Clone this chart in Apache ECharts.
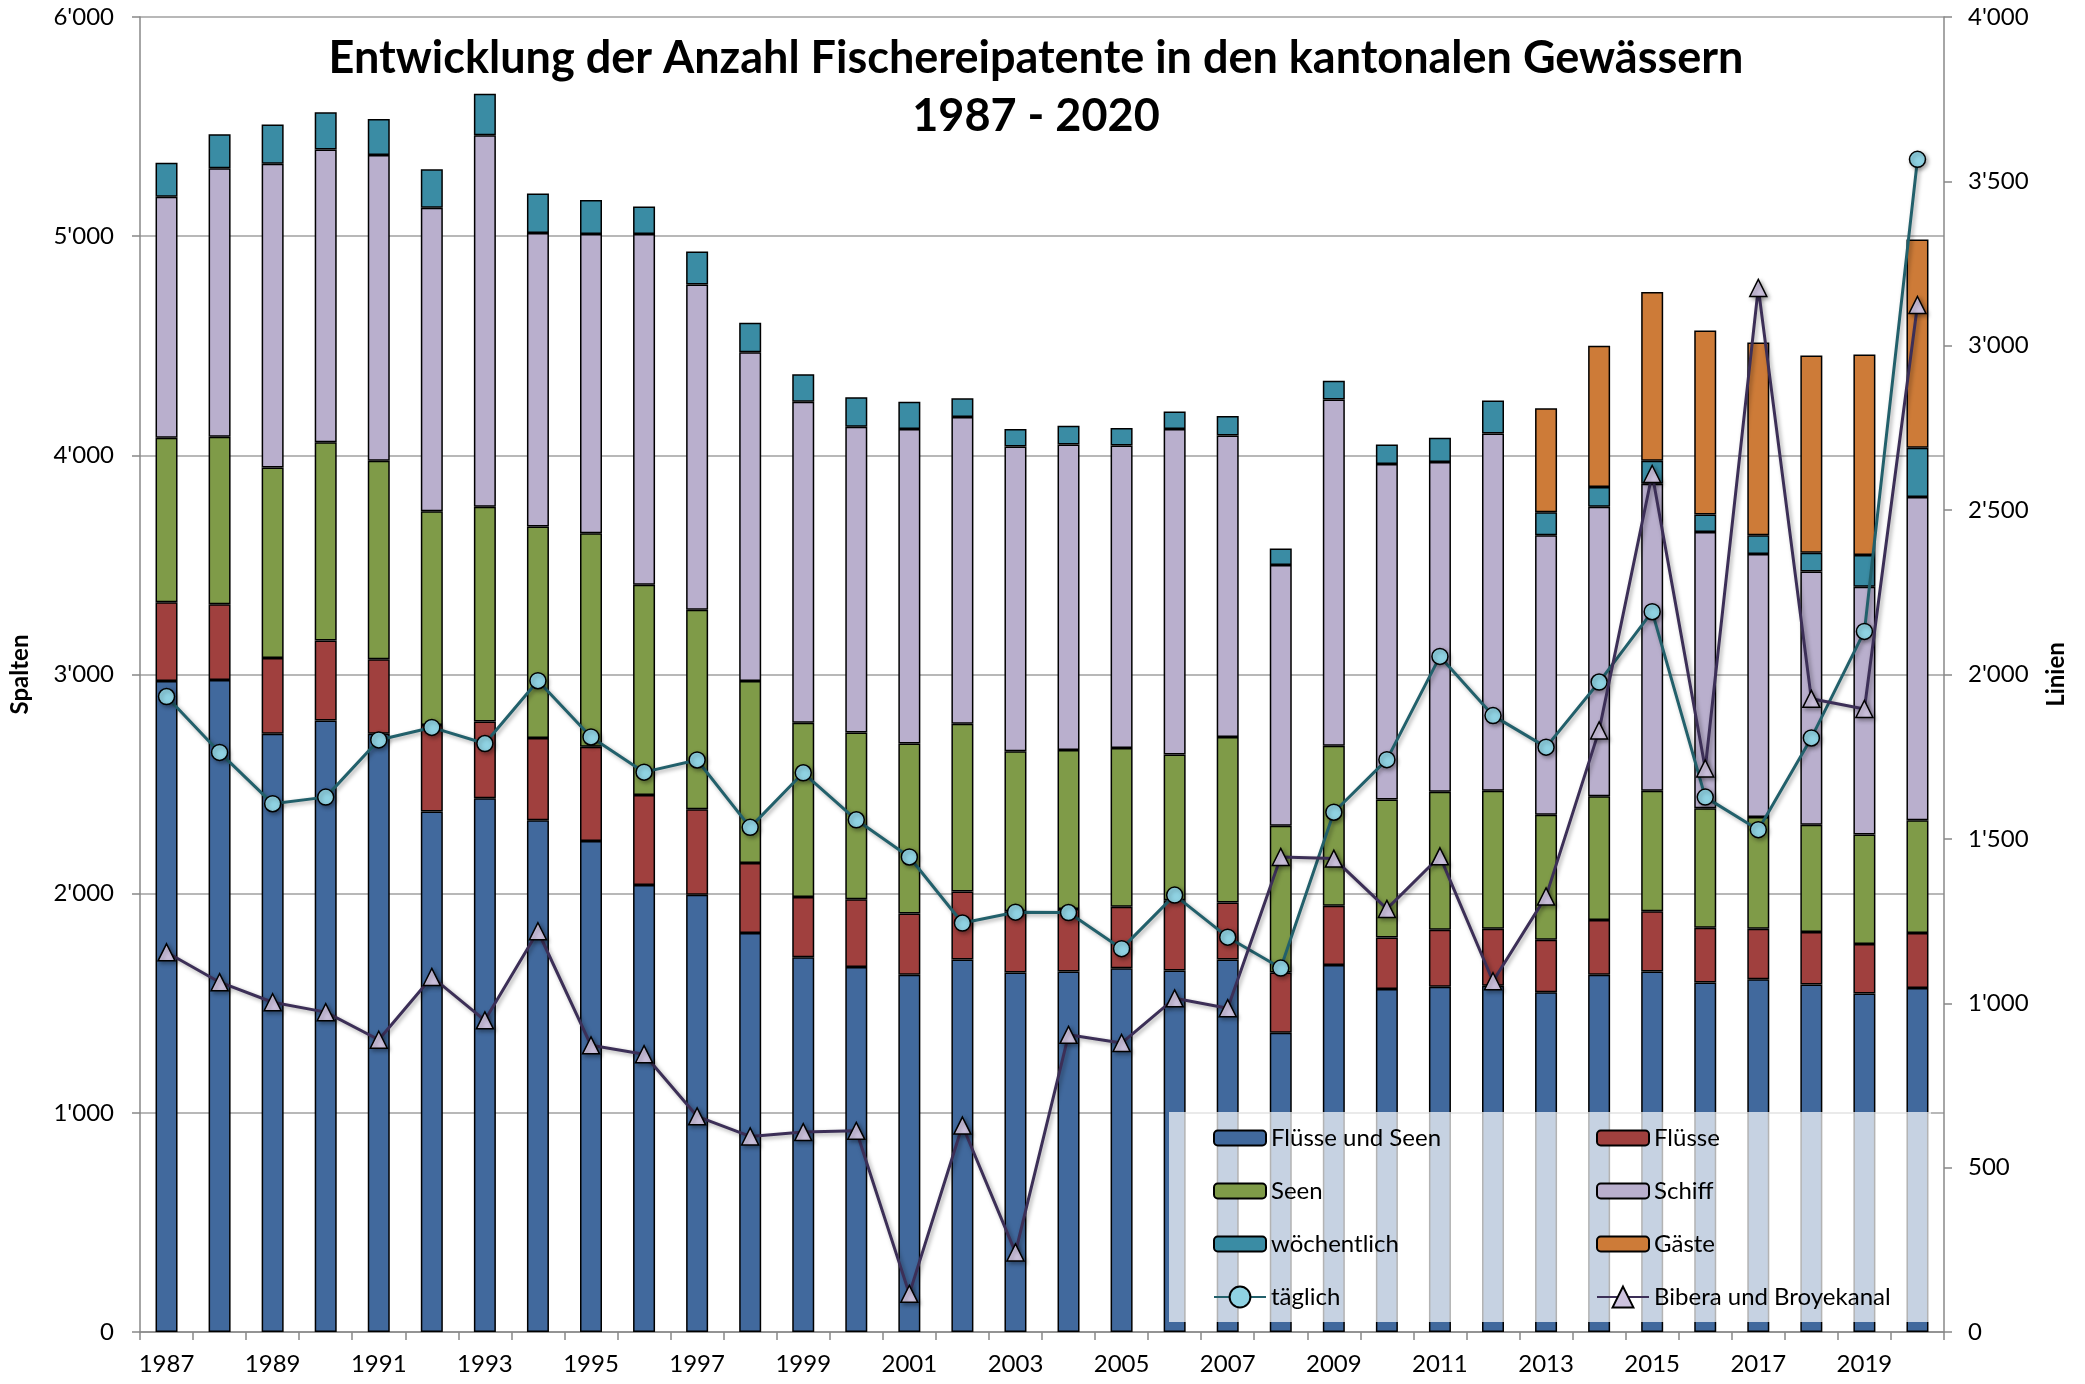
<!DOCTYPE html>
<html>
<head>
<meta charset="utf-8">
<script src="https://cdn.jsdelivr.net/npm/echarts@6/dist/echarts.min.js"></script>
<style>
html,body{margin:0;padding:0;background:#fff;}
#chart{width:2085px;height:1384px;}
</style>
</head>
<body>
<div id="chart"></div>
<script>
const years = ['1987','1988','1989','1990','1991','1992','1993','1994','1995','1996','1997','1998','1999','2000','2001','2002','2003','2004','2005','2006','2007','2008','2009','2010','2011','2012','2013','2014','2015','2016','2017','2018','2019','2020'];

const fluesseUndSeen = [2970,2975,2730,2790,2730,2375,2435,2335,2240,2040,1995,1820,1710,1665,1630,1700,1640,1645,1660,1650,1700,1365,1675,1565,1575,1580,1550,1630,1645,1595,1610,1585,1545,1570];
const fluesse = [360,345,345,365,340,395,350,375,430,410,390,320,275,310,280,310,280,285,280,320,260,275,270,235,260,260,240,250,275,250,230,240,225,250];
const seen = [750,765,870,905,905,975,980,965,975,960,910,830,795,760,775,765,730,725,725,665,755,670,730,630,630,630,570,565,550,545,510,490,500,515];
const schiff = [1100,1225,1385,1335,1395,1385,1695,1340,1365,1600,1485,1500,1465,1395,1435,1400,1390,1395,1380,1485,1375,1190,1580,1530,1505,1630,1275,1320,1400,1260,1200,1155,1130,1475];
const woechentlich = [155,155,180,170,165,175,190,180,155,125,150,135,125,135,125,85,80,85,80,80,90,75,85,90,110,150,105,90,105,80,85,85,145,225];
const gaeste = [null,null,null,null,null,null,null,null,null,null,null,null,null,null,null,null,null,null,null,null,null,null,null,null,null,null,475,645,770,840,880,900,915,950];

const taeglich = [1933,1763,1607,1627,1801,1839,1790,1981,1810,1703,1740,1535,1701,1558,1445,1244,1277,1276,1166,1329,1201,1107,1581,1741,2055,1875,1779,1977,2191,1627,1528,1807,2131,3567];
const bibera = [1155,1064,1003,973,889,1080,948,1219,872,845,656,595,608,612,116,628,242,904,879,1015,985,1445,1440,1287,1447,1067,1325,1830,2610,1714,3176,1926,1895,3124];

const leftTicks = [0,1000,2000,3000,4000,5000,6000];
const rightTicks = [0,500,1000,1500,2000,2500,3000,3500,4000];

const FONT = 'Lato, "Open Sans", sans-serif';

function fmt(v){
  v = Math.round(v);
  if (v >= 1000) {
    return Math.floor(v/1000) + "'" + String(v % 1000).padStart(3,'0');
  }
  return String(v);
}

const chart = echarts.init(document.getElementById('chart'), null, {renderer:'canvas'});

const barBorder = {borderColor:'#000', borderWidth:1.5};
function barSeries(name, data, color){
  return {
    name, type:'bar', stack:'total', data, barWidth:22,
    itemStyle: Object.assign({color}, barBorder),
    emphasis:{disabled:true}
  };
}

const legendText = {fontFamily:FONT, fontSize:24, color:'#000', lineHeight:26};
function legendBox(left, top, data, itemHeight){
  return {
    orient:'vertical', left, top, z:120, padding:0,
    itemWidth:52, itemHeight, itemGap:27,
    textStyle:legendText, data
  };
}

const shadow = {shadowColor:'rgba(0,0,0,0.35)', shadowBlur:4, shadowOffsetX:2, shadowOffsetY:2};

const option = {
  backgroundColor:'#ffffff',
  animation:false,
  textStyle:{fontFamily:FONT},
  title:{
    text:'Entwicklung der Anzahl Fischereipatente in den kantonalen Gewässern\n1987 - 2020',
    left:1036, top:29, textAlign:'center', padding:0,
    textStyle:{fontFamily:FONT, fontSize:45, fontWeight:'bold', color:'#000', lineHeight:58}
  },
  grid:{left:128, right:141, top:17, bottom:52, containLabel:false},
  legend:[
    legendBox(1213, 1125, ['Flüsse und Seen','Seen','wöchentlich'], 15),
    legendBox(1596, 1125, ['Flüsse','Schiff','Gäste'], 15),
    legendBox(1213, 1284, ['täglich'], 26),
    legendBox(1596, 1284, ['Bibera und Broyekanal'], 26)
  ],
  graphic:[
    {
      type:'rect', z:100, silent:true,
      shape:{x:1169, y:1112, width:762, height:210},
      style:{fill:'rgba(255,255,255,0.7)'}
    }
  ],
  xAxis:{
    type:'category', data:years, boundaryGap:true,
    axisLine:{lineStyle:{color:'#888', width:1.5}},
    axisTick:{show:true, interval:0, alignWithLabel:false, length:8, lineStyle:{color:'#888', width:1.5}},
    axisLabel:{interval:1, margin:20, fontSize:24, color:'#000', fontFamily:FONT},
    splitLine:{show:false}
  },
  yAxis:[
    {
      type:'value', min:leftTicks[0], max:leftTicks[leftTicks.length-1], interval:1000, position:'left',
      name:'Spalten', nameLocation:'middle', nameRotate:90, nameGap:108,
      nameTextStyle:{fontFamily:FONT, fontSize:24, fontWeight:'bold', color:'#000'},
      axisLine:{show:true, lineStyle:{color:'#888', width:1.5}},
      axisTick:{show:true, length:8, lineStyle:{color:'#888', width:1.5}},
      axisLabel:{margin:26, fontSize:24, color:'#000', fontFamily:FONT, formatter:fmt},
      splitLine:{show:true, lineStyle:{color:'#a0a0a0', width:1.5}}
    },
    {
      type:'value', min:rightTicks[0], max:rightTicks[rightTicks.length-1], interval:500, position:'right',
      name:'Linien', nameLocation:'middle', nameRotate:90, nameGap:100,
      nameTextStyle:{fontFamily:FONT, fontSize:24, fontWeight:'bold', color:'#000'},
      axisLine:{show:true, lineStyle:{color:'#888', width:1.5}},
      axisTick:{show:true, length:8, lineStyle:{color:'#888', width:1.5}},
      axisLabel:{margin:24, fontSize:24, color:'#000', fontFamily:FONT, formatter:fmt},
      splitLine:{show:false}
    }
  ],
  series:[
    barSeries('Flüsse und Seen', fluesseUndSeen, '#41699d'),
    barSeries('Flüsse', fluesse, '#a0403e'),
    barSeries('Seen', seen, '#7f9b48'),
    barSeries('Schiff', schiff, '#b9afcd'),
    barSeries('wöchentlich', woechentlich, '#3a8ca4'),
    barSeries('Gäste', gaeste, '#cd7b38'),
    {
      name:'täglich', type:'line', yAxisIndex:1, data:taeglich, z:5,
      symbol:'circle', symbolSize:16,
      lineStyle:Object.assign({color:'#22606b', width:3}, shadow),
      itemStyle:Object.assign({color:'#8fd2e2', borderColor:'#000', borderWidth:1.5}, shadow),
      emphasis:{disabled:true}
    },
    {
      name:'Bibera und Broyekanal', type:'line', yAxisIndex:1, data:bibera, z:6,
      symbol:'triangle', symbolSize:17,
      lineStyle:Object.assign({color:'#3c2f57', width:3}, shadow),
      itemStyle:Object.assign({color:'#cdc2de', borderColor:'#000', borderWidth:1.5}, shadow),
      emphasis:{disabled:true}
    }
  ]
};
chart.setOption(option);
</script>
</body>
</html>
